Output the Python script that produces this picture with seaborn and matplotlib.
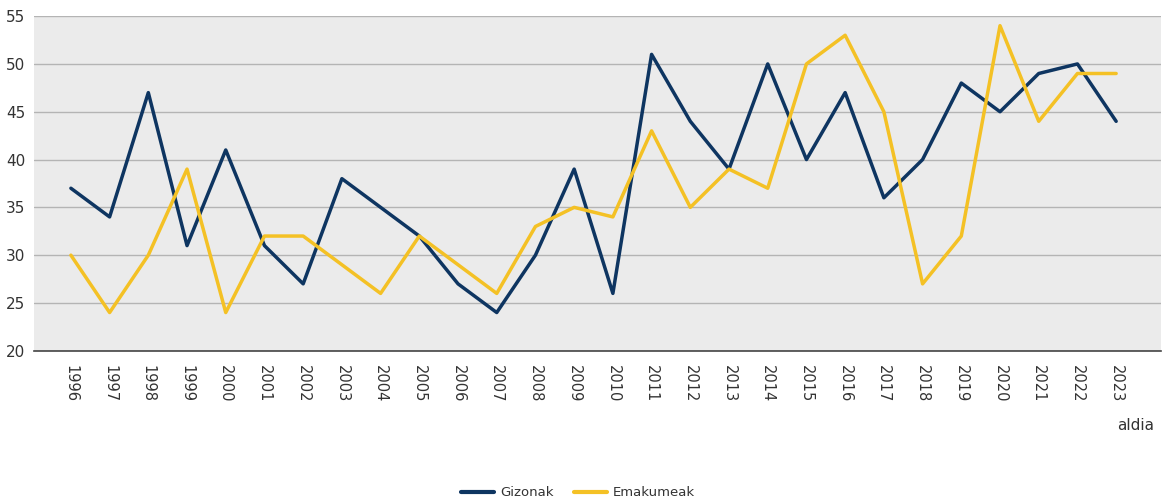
import pandas as pd
import matplotlib.pyplot as plt
import seaborn as sns
from matplotlib.lines import Line2D

sns.set_style("white")
plt.rcParams['font.family'] = ['DejaVu Sans']

years = list(range(1996, 2024))
gizonak = [37, 34, 47, 31, 41, 31, 27, 38, 35, 32, 27, 24, 30, 39, 26, 51,
           44, 39, 50, 40, 47, 36, 40, 48, 45, 49, 50, 44]
emakumeak = [30, 24, 30, 39, 24, 32, 32, 29, 26, 32, 29, 26, 33, 35, 34, 43,
             35, 39, 37, 50, 53, 45, 27, 32, 54, 44, 49, 49]

df = pd.DataFrame({
    'aldia': [str(y) for y in years] * 2,
    'balioa': gizonak + emakumeak,
    'sexua': ['Gizonak'] * len(years) + ['Emakumeak'] * len(years),
})

fig = plt.figure(figsize=(11.63, 5.04), dpi=100)
ax = fig.add_axes([0.029, 0.304, 0.969, 0.664])
ax.set_facecolor('#ebebeb')

sns.lineplot(data=df, x='aldia', y='balioa', hue='sexua',
             palette={'Gizonak': '#0e3561', 'Emakumeak': '#f4c125'},
             linewidth=2.5, ax=ax, legend=False, sort=False)

ax.set_ylim(20, 55)
ax.set_yticks(range(20, 56, 5))
ax.set_xlim(-0.96, 28.15)
ax.grid(axis='y', color='#b4b4b4', linewidth=1)
ax.set_axisbelow(True)
for s in ['top', 'right', 'left']:
    ax.spines[s].set_visible(False)
ax.spines['bottom'].set_color('#444444')
ax.spines['bottom'].set_linewidth(1.2)
ax.tick_params(axis='x', rotation=270, labelsize=10.5, length=0, pad=10, colors='#333333')
ax.tick_params(axis='y', labelsize=11, length=0, pad=6, colors='#333333')
for lab in ax.get_xticklabels():
    lab.set_verticalalignment('top')
ax.set_xlabel('')
ax.set_ylabel('')
fig.text(0.992, 0.155, 'aldia', ha='right', va='center', fontsize=11, color='#333333')

handles = [Line2D([], [], color='#0e3561', linewidth=3),
           Line2D([], [], color='#f4c125', linewidth=3)]
fig.legend(handles, ['Gizonak', 'Emakumeak'], loc='center', bbox_to_anchor=(0.497, 0.022),
           ncol=2, frameon=False, fontsize=9.5, handlelength=2.5, columnspacing=1.5,
           handletextpad=0.5, labelcolor='#333333')

fig.savefig('out.png', dpi=100)
